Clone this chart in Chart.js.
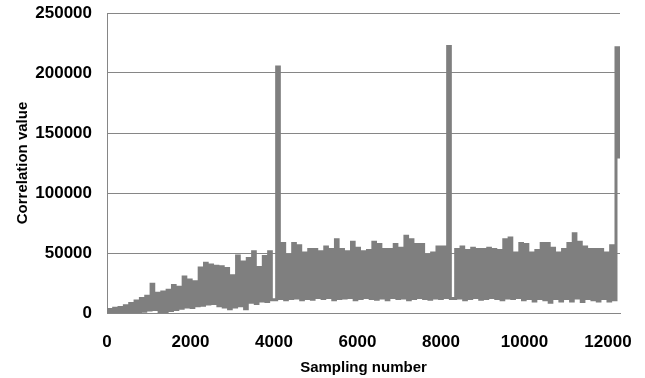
<!DOCTYPE html>
<html>
<head>
<meta charset="utf-8">
<script src="https://cdn.jsdelivr.net/npm/chart.js@4/dist/chart.umd.min.js"></script>
<style>
  html, body { margin: 0; padding: 0; background: #fff; }
</style>
</head>
<body>
<canvas id="chart" width="645" height="378"></canvas>
<script>
// one reading every 64 samples (peak / trough alternating)
const sampleStep = 64;
const corrValues = [
  0, 3000, 500, 4000, 0, 4500, 1000, 6000, 500, 8000,
  1000, 10000, 0, 12000, 1500, 14000, 2500, 24000, 3000, 16500,
  1000, 17500, 0, 19000, 2000, 23000, 3000, 21500, 4000, 30000,
  5000, 27500, 4500, 26000, 6000, 37500, 6500, 41500, 7500, 40000,
  8000, 39000, 6000, 38500, 5000, 37000, 3500, 31000, 5000, 47500,
  6000, 42500, 3500, 45500, 9000, 51000, 8000, 38000, 10000, 47000,
  9500, 51000, 11000, 11000, 205000, 12000, 58000, 11000, 48000, 12000,
  58000, 12500, 56000, 11000, 50000, 12000, 53000, 11500, 53000, 13000,
  51000, 12000, 55000, 13000, 53000, 11000, 61000, 12000, 53000, 12500,
  51000, 13000, 59000, 11000, 54000, 12000, 51000, 13000, 52000, 12000,
  59000, 11500, 57000, 12500, 53000, 11000, 53000, 13000, 57000, 12000,
  54000, 12500, 64000, 11000, 61000, 12000, 57000, 13000, 57000, 12000,
  48000, 11500, 50000, 12500, 55000, 12000, 55000, 13000, 222000, 12000,
  12000, 53000, 12500, 55000, 11000, 52000, 12000, 54000, 13000, 53000,
  11500, 53000, 12000, 54000, 13000, 53000, 12000, 52000, 11000, 61000,
  12500, 62500, 12000, 50000, 13000, 58000, 11000, 57000, 12000, 50000,
  10000, 52000, 12000, 58000, 11000, 58000, 9000, 54000, 12000, 50000,
  10000, 53000, 12000, 58000, 10000, 66000, 12500, 59000, 9500, 55000,
  12000, 53000, 11000, 53000, 10000, 53000, 12000, 50000, 10000, 56000,
  11000, 221000, 130000
];

const xMax = 12288;
const xTickValues = [0, 2000, 4000, 6000, 8000, 10000, 12000];
const yMax = 250000;
const yTickStep = 50000;
const xTitle = "Sampling number";
const yTitle = "Correlation value";

const points = corrValues.map((v, i) => ({ x: i * sampleStep, y: v }));

const axisGrey = "#868686";
const tickFont = { family: "Liberation Sans", size: 17, weight: "bold" };
const titleFont = { family: "Liberation Sans", size: 15, weight: "bold" };

new Chart(document.getElementById("chart"), {
  type: "line",
  data: {
    datasets: [
      {
        data: points,
        borderColor: "#7f7f7f",
        borderWidth: 3,
        pointRadius: 0,
        stepped: "middle",
        fill: false
      }
    ]
  },
  options: {
    responsive: false,
    animation: false,
    parsing: false,
    layout: {
      padding: { top: 13, right: 25, bottom: 0, left: 0 }
    },
    plugins: {
      legend: { display: false },
      tooltip: { enabled: false }
    },
    scales: {
      x: {
        type: "linear",
        min: 0,
        max: xMax,
        grid: { display: false, drawTicks: false },
        border: { display: true, color: axisGrey, width: 1 },
        ticks: {
          padding: 19,
          color: "#000",
          font: tickFont,
          maxRotation: 0,
          autoSkip: false,
          callback: v => String(v)
        },
        afterBuildTicks: scale => {
          scale.ticks = xTickValues.map(v => ({ value: v }));
        },
        title: {
          display: true,
          text: xTitle,
          color: "#000",
          font: titleFont,
          padding: { top: 0, bottom: 1 }
        },
        afterFit: scale => {
          scale.height = 65;
          scale.paddingLeft = 0;
          scale.paddingRight = 0;
        }
      },
      y: {
        min: 0,
        max: yMax,
        grid: { color: axisGrey, lineWidth: 1, drawTicks: false },
        border: { display: true, color: axisGrey, width: 1 },
        ticks: {
          stepSize: yTickStep,
          padding: 15,
          color: "#000",
          font: tickFont,
          callback: v => String(v)
        },
        title: {
          display: true,
          text: yTitle,
          color: "#000",
          font: titleFont,
          padding: { top: 14, bottom: 0 }
        },
        afterFit: scale => {
          scale.width = 107;
          scale.paddingTop = 0;
          scale.paddingBottom = 0;
        }
      }
    }
  }
});
</script>
</body>
</html>
